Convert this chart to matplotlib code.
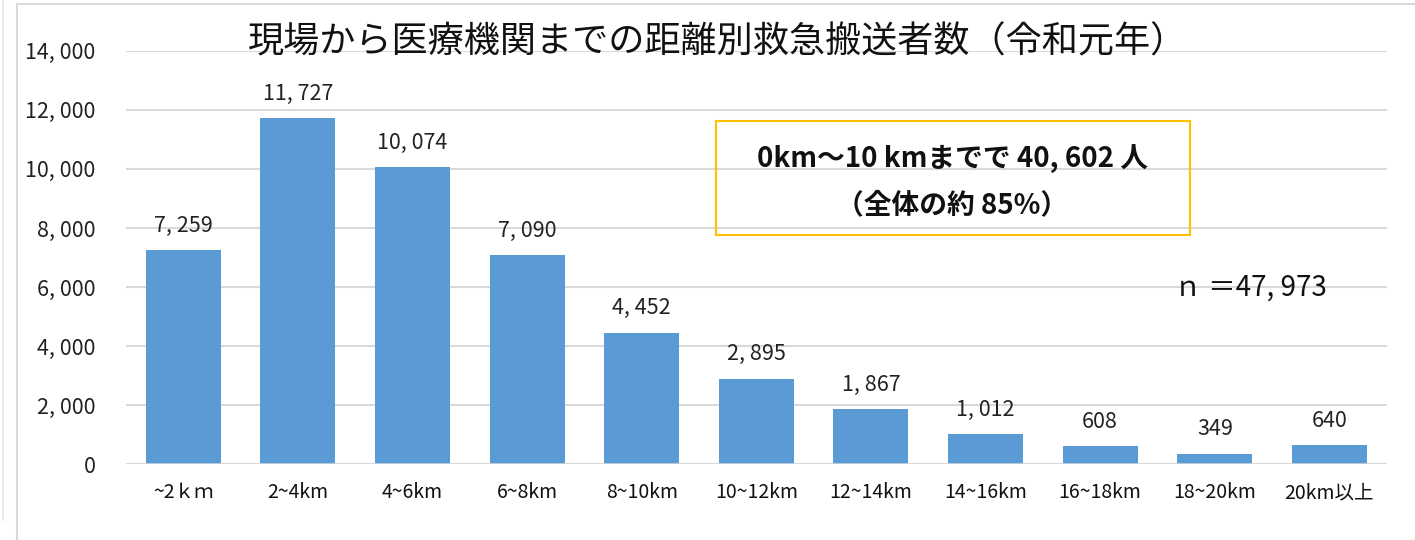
import matplotlib
matplotlib.use("Agg")
import matplotlib.pyplot as plt
from matplotlib.lines import Line2D

plt.rcParams['font.family'] = ['Noto Sans CJK JP', 'DejaVu Sans']

### data
categories = ["~2ｋｍ", "2~4km", "4~6km", "6~8km", "8~10km", "10~12km",
              "12~14km", "14~16km", "16~18km", "18~20km", "20km以上"]
counts = [7259, 11727, 10074, 7090, 4452, 2895, 1867, 1012, 608, 349, 640]
yticks = [0, 2000, 4000, 6000, 8000, 10000, 12000, 14000]

title = "現場から医療機関までの距離別救急搬送者数（令和元年）"
note = "0km～10 kmまでで 40, 602 人\n（全体の約 85%）"
n_text = "ｎ ＝47, 973"

def fmt(v):
    return "{:,}".format(v).replace(",", ", ")

### figure
fig = plt.figure(figsize=(14.15, 5.4), dpi=100)
ax = fig.add_axes([0.089, 0.1407, 0.891, 0.765])

x = list(range(len(categories)))
ax.bar(x, counts, width=0.655, color="#5B9BD5", zorder=3)
for xi, v in zip(x, counts):
    ax.text(xi, v + 450, fmt(v), ha="center", va="bottom", fontsize=15.5, color="#222222")

ax.set_xlim(-0.5, len(categories) - 0.5)
ax.set_ylim(0, 14000)
ax.set_yticks(yticks)
ax.set_yticklabels([fmt(v) for v in yticks], fontsize=15.5, color="#222222")
ax.set_xticks(x)
ax.set_xticklabels(categories, fontsize=14, color="#111111")
ax.tick_params(axis="both", length=0)
ax.tick_params(axis="y", pad=22)
ax.tick_params(axis="x", pad=13)
ax.grid(axis="y", color="#D9D9D9", linewidth=1.5, zorder=0)
for s in ax.spines.values():
    s.set_visible(False)
ax.axhline(0, color="#D9D9D9", linewidth=1.8, zorder=4)

### texts
fig.text(0.507, 0.922, title, ha="center", va="center", fontsize=26, color="#111111")
fig.text(0.673, 0.663, note, ha="center", va="center", fontsize=20,
         fontweight="bold", linespacing=1.75, color="#111111")
box = plt.Rectangle((716 / 1415, 1 - 235 / 540), (1190 - 716) / 1415, (235 - 121) / 540,
                    transform=fig.transFigure, fill=False, ec="#FFC000", lw=1.5)
fig.patches.append(box)
fig.text(0.884, 0.468, n_text, ha="center", va="center", fontsize=20, color="#111111")

### outer frame lines
fig.add_artist(Line2D([17 / 1415, 17 / 1415], [0, 1 - 4 / 540], color="#D9D9D9", lw=1.5))
fig.add_artist(Line2D([17 / 1415, 1], [1 - 4 / 540, 1 - 4 / 540], color="#D9D9D9", lw=1.5))
fig.add_artist(Line2D([3 / 1415, 3 / 1415], [1 - 520 / 540, 1], color="#E3E3E3", lw=1.2))

fig.savefig("out.png", dpi=100)
